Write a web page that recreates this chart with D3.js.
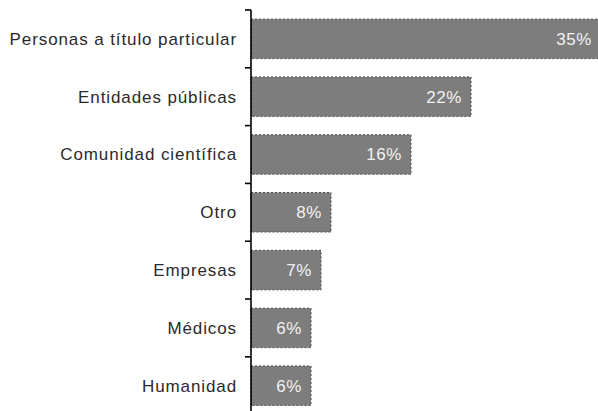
<!DOCTYPE html>
<html>
<head>
<meta charset="utf-8">
<script src="https://cdn.jsdelivr.net/npm/d3@7"></script>
<style>
  html, body { margin: 0; padding: 0; background: #fff; }
  svg { display: block; }
</style>
</head>
<body>
<svg id="chart" width="598" height="411"></svg>
<script>
// Who the respondents answered to, share of responses (%)
const categories = [
  "Personas a título particular",
  "Entidades públicas",
  "Comunidad científica",
  "Otro",
  "Empresas",
  "Médicos",
  "Humanidad"
];
const values = [35, 22, 16, 8, 7, 6, 6];
const valueLabels = ["35%", "22%", "16%", "8%", "7%", "6%", "6%"];

const data = categories.map((c, i) => ({ cat: c, val: values[i], label: valueLabels[i] }));

const W = 598, H = 411;
const axisX = 251;
const plotTop = 10, plotBottom = 414.6;

const svg = d3.select("#chart");

const x = d3.scaleLinear().domain([0, 35]).range([axisX, axisX + 350]);
const y = d3.scaleBand()
  .domain(categories)
  .range([plotTop, plotBottom])
  .paddingInner(0.317)
  .paddingOuter(0.158);

const step = y.step();
const font = "'Liberation Sans', Arial, Helvetica, sans-serif";

// bars
const bars = svg.append("g");
bars.selectAll("rect")
  .data(data)
  .join("rect")
  .attr("x", axisX)
  .attr("y", d => y(d.cat))
  .attr("width", d => x(d.val) - axisX)
  .attr("height", y.bandwidth())
  .attr("fill", "#7d7d7d")
  .attr("stroke", "#4a4a4a")
  .attr("stroke-width", 1)
  .attr("stroke-dasharray", "2,2");

// value labels inside the bars
bars.selectAll("text")
  .data(data)
  .join("text")
  .attr("x", d => x(d.val) - 9)
  .attr("y", d => y(d.cat) + y.bandwidth() / 2)
  .attr("dy", "0.35em")
  .attr("text-anchor", "end")
  .attr("fill", "#f2f2f2")
  .attr("font-family", font)
  .attr("font-size", 17)
  .attr("letter-spacing", 0.6)
  .text(d => d.label);

// vertical axis with ticks at band boundaries
const axis = svg.append("g");
axis.append("line")
  .attr("x1", axisX).attr("x2", axisX)
  .attr("y1", plotTop).attr("y2", H)
  .attr("stroke", "#000").attr("stroke-width", 1.6);

const tickYs = d3.range(categories.length + 1).map(i => plotTop + i * step).filter(v => v < H);
axis.selectAll("line.tick")
  .data(tickYs)
  .join("line")
  .attr("class", "tick")
  .attr("x1", axisX - 6).attr("x2", axisX)
  .attr("y1", d => d).attr("y2", d => d)
  .attr("stroke", "#000").attr("stroke-width", 1.6);

// category labels
axis.selectAll("text")
  .data(data)
  .join("text")
  .attr("x", axisX - 14)
  .attr("y", d => y(d.cat) + y.bandwidth() / 2)
  .attr("dy", "0.35em")
  .attr("text-anchor", "end")
  .attr("fill", "#2a2a2a")
  .attr("font-family", font)
  .attr("font-size", 17)
  .attr("letter-spacing", 0.9)
  .text(d => d.cat);
</script>
</body>
</html>
